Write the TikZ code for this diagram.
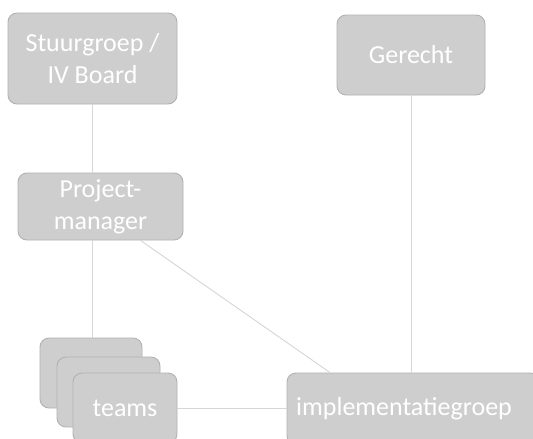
\documentclass[tikz,border=0pt]{standalone}
\usepackage{fontspec}
\setmainfont{Carlito}
\definecolor{boxfill}{RGB}{206,206,206}
\definecolor{boxline}{RGB}{178,178,178}
\definecolor{conn}{RGB}{214,214,214}
\begin{document}
\begin{tikzpicture}[x=1pt,y=-1pt,
  box/.style={draw=boxline, line width=0.9pt, fill=boxfill, rounded corners=9pt,
    text=white, font=\fontsize{26}{32}\selectfont, align=center, inner sep=0pt},
  conn/.style={draw=conn, line width=0.9pt}]
\useasboundingbox[fill=white] (0,0) rectangle (533,439);
\node[box, minimum width=169, minimum height=91] (stuur) at (92.5,58.5) {Stuurgroep /\\IV Board};
\node[box, minimum width=148, minimum height=80] (gerecht) at (411,55) {Gerecht};
\node[box, minimum width=165, minimum height=67] (pm) at (100.5,206.5) {Project-\\manager};
\node[box, minimum width=102, minimum height=70] (team1) at (91,373) {};
\node[box, minimum width=103, minimum height=70] (team2) at (108.5,392) {};
\node[box, minimum width=104, minimum height=70] (teams) at (125,408) {teams};
\node[box, minimum width=252, minimum height=72, text width=252] (impl) at (413,409) {\hspace*{-18pt}implementatiegroep};
\coordinate (pmdiag) at ([xshift=40pt]pm.south);
\coordinate (impldiag) at ([xshift=-83pt]impl.north);
\draw[conn] (stuur.south) -- (stuur.south |- pm.north);
\draw[conn] (pm.south -| stuur.south) -- (team1.north -| stuur.south);
\draw[conn] (pmdiag) -- (impldiag);
\draw[conn] (gerecht.south) -- (gerecht.south |- impl.north);
\draw[conn] (teams.east) -- (impl.west |- teams.east);
\end{tikzpicture}
\end{document}
